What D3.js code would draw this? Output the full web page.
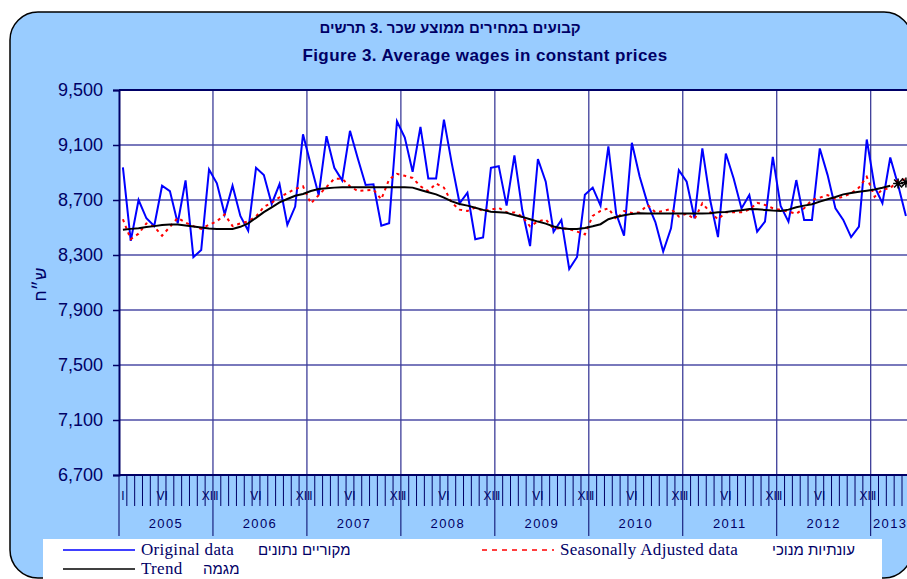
<!DOCTYPE html>
<html>
<head>
<meta charset="utf-8">
<script src="https://cdn.jsdelivr.net/npm/d3@7"></script>
<style>
body { margin: 0; background: #fff; }
svg { display: block; }
</style>
</head>
<body>
<div id="chart"></div>
<script>
// monthly series, Jan 2005 .. May 2013
var years = ['2005', '2006', '2007', '2008', '2009', '2010', '2011', '2012', '2013'];
var monthMarks = [{m: 0, label: 'I'}, {m: 5, label: 'VI'}, {m: 11, label: 'XII'}];
var yTicks = [6700, 7100, 7500, 7900, 8300, 8700, 9100, 9500];

var original = [
    8937, 8403, 8700, 8567, 8511, 8804, 8765, 8531, 8843, 8284, 8337, 8922,
    8821, 8596, 8804, 8584, 8477, 8934, 8881, 8671, 8816, 8519, 8652, 9178,
    8954, 8736, 9164, 8934, 8843, 9203, 9002, 8809, 8814, 8513, 8531, 9273,
    9154, 8905, 9232, 8857, 8857, 9285, 8966, 8676, 8753, 8415, 8427, 8934,
    8946, 8659, 9024, 8627, 8365, 8998, 8833, 8468, 8555, 8198, 8286, 8738,
    8790, 8659, 9090, 8600, 8441, 9116, 8869, 8676, 8540, 8325, 8494, 8917,
    8833, 8567, 9075, 8700, 8430, 9038, 8857, 8639, 8736, 8470, 8543, 9014,
    8656, 8543, 8845, 8555, 8555, 9075, 8881, 8639, 8555, 8430, 8507, 9140,
    8797, 8676, 9009, 8809, 8584
];

var seasonal = [
    8560, 8415, 8455, 8530, 8505, 8440, 8505, 8570, 8535, 8510, 8490, 8520,
    8545, 8595, 8510, 8530, 8545, 8580, 8650, 8680, 8720, 8750, 8780, 8800,
    8675, 8735, 8795, 8855, 8855, 8800, 8765, 8770, 8775, 8705, 8850, 8890,
    8876, 8860, 8800, 8765, 8820, 8790, 8680, 8630, 8620, 8645, 8620, 8630,
    8642, 8610, 8610, 8580, 8508, 8545, 8558, 8492, 8495, 8488, 8470, 8450,
    8585, 8620, 8640, 8560, 8620, 8605, 8610, 8664, 8611, 8620, 8635, 8580,
    8600, 8560, 8676, 8611, 8560, 8611, 8611, 8611, 8630, 8680, 8664, 8640,
    8628, 8615, 8600, 8640, 8700, 8717, 8736, 8707, 8725, 8748, 8790, 8869,
    8724, 8777, 8785, 8845, 8850
];

var trend = [
    8483, 8490, 8495, 8503, 8510, 8518, 8522, 8522, 8515, 8507, 8500, 8492,
    8490, 8490, 8490, 8505, 8530, 8570, 8612, 8647, 8683, 8707, 8731, 8744,
    8765, 8780, 8785, 8790, 8792, 8792, 8792, 8792, 8792, 8792, 8792, 8792,
    8792, 8790, 8773, 8756, 8741, 8717, 8690, 8671, 8659, 8644, 8628, 8615,
    8611, 8607, 8591, 8577, 8560, 8543, 8528, 8507, 8495, 8490, 8490, 8497,
    8509, 8524, 8560, 8577, 8589, 8599, 8603, 8601, 8601, 8601, 8601, 8601,
    8601, 8601, 8601, 8603, 8611, 8613, 8620, 8625, 8635, 8632, 8628, 8623,
    8620, 8630, 8647, 8659, 8669, 8688, 8705, 8722, 8741, 8751, 8760, 8768,
    8777, 8789, 8804
];
// last two trend estimates, drawn as star markers
var trendEnd = [8820, 8828];

var W = 907, H = 579;
var plot = {left: 119, top: 90, bottom: 475};
var monthW = 7.83;
var navy = '#000066';

var svg = d3.select('#chart').append('svg')
    .attr('width', W)
    .attr('height', H);

// Hebrew words are laid out one by one, left to right, as in the original picture
function wordsLeftToRight(parent, words, x0, y0, anchor, style) {
    var g = parent.append('g');
    var cx = 0;
    words.forEach(function(w) {
        var t = g.append('text')
            .attr('x', cx).attr('y', y0)
            .attr('font-family', style.family)
            .attr('font-size', style.size)
            .attr('font-weight', style.weight || 'normal')
            .attr('fill', style.fill)
            .text(w);
        cx += t.node().getComputedTextLength() + style.size * 0.28;
    });
    var total = cx - style.size * 0.28;
    var shift = anchor === 'middle' ? x0 - total / 2 : x0;
    g.attr('transform', 'translate(' + shift + ',0)');
    return g;
}

// outer rounded panel
svg.append('rect')
    .attr('x', 10).attr('y', 12)
    .attr('width', 902).attr('height', 566)
    .attr('rx', 28).attr('ry', 28)
    .attr('fill', '#99ccff')
    .attr('stroke', '#000')
    .attr('stroke-width', 1.5);

var x = d3.scaleLinear()
    .domain([0, years.length * 12])
    .range([plot.left, plot.left + years.length * 12 * monthW]);
var y = d3.scaleLinear()
    .domain([6700, 9500])
    .range([plot.bottom, plot.top]);

// titles
wordsLeftToRight(svg, ['תרשים', '3.', 'שכר', 'ממוצע', 'במחירים', 'קבועים'], 450, 33, 'middle',
    {family: 'Liberation Sans, DejaVu Sans, sans-serif', size: 15, weight: 'bold', fill: navy});
svg.append('text')
    .attr('x', 485).attr('y', 61)
    .attr('text-anchor', 'middle')
    .attr('font-family', 'Liberation Sans, Arial, sans-serif')
    .attr('font-size', 17).attr('font-weight', 'bold')
    .attr('letter-spacing', 0.4)
    .attr('fill', navy)
    .text('Figure 3. Average wages in constant prices');

// plot background
svg.append('rect')
    .attr('x', plot.left).attr('y', plot.top)
    .attr('width', W - plot.left + 10).attr('height', plot.bottom - plot.top)
    .attr('fill', '#fff');

// gridlines
svg.append('g')
    .selectAll('line')
    .data(yTicks.slice(1, -1))
    .enter().append('line')
    .attr('x1', plot.left).attr('x2', W)
    .attr('y1', function(d) { return y(d); })
    .attr('y2', function(d) { return y(d); })
    .attr('stroke', '#4d4da6')
    .attr('stroke-width', 1.5);

svg.append('g')
    .selectAll('line')
    .data(years.slice(1))
    .enter().append('line')
    .attr('x1', function(d, i) { return x((i + 1) * 12); })
    .attr('x2', function(d, i) { return x((i + 1) * 12); })
    .attr('y1', plot.top).attr('y2', plot.bottom)
    .attr('stroke', '#3d3d99')
    .attr('stroke-width', 1.3);

// y axis
var yAxis = d3.axisLeft(y)
    .tickValues(yTicks)
    .tickSize(6)
    .tickPadding(10)
    .tickFormat(d3.format(','));
var yg = svg.append('g')
    .attr('transform', 'translate(' + plot.left + ',0)')
    .call(yAxis);
yg.select('.domain').attr('stroke', navy).attr('stroke-width', 2);
yg.selectAll('.tick line').attr('stroke', navy).attr('stroke-width', 1.5);
yg.selectAll('.tick text')
    .attr('font-family', 'Liberation Sans, Arial, sans-serif')
    .attr('font-size', 18)
    .attr('fill', navy);

svg.append('text')
    .attr('transform', 'translate(46,' + ((plot.top + plot.bottom) / 2 + 2) + ') rotate(-90)')
    .attr('text-anchor', 'middle')
    .attr('font-family', 'Liberation Sans, DejaVu Sans, sans-serif')
    .attr('font-size', 17)
    .attr('fill', navy)
    .text('ש״ח');

// plot frame top and bottom
svg.append('line')
    .attr('x1', plot.left).attr('x2', W)
    .attr('y1', plot.top).attr('y2', plot.top)
    .attr('stroke', navy).attr('stroke-width', 2);
svg.append('line')
    .attr('x1', plot.left).attr('x2', W)
    .attr('y1', plot.bottom).attr('y2', plot.bottom)
    .attr('stroke', navy).attr('stroke-width', 2);

// x axis: month labels, month ticks, year labels
var nMonths = original.length;
var xg = svg.append('g');
var marks = [];
years.forEach(function(yr, yi) {
    monthMarks.forEach(function(mm) {
        var pos = yi * 12 + mm.m;
        if (pos < nMonths) marks.push({pos: pos + 0.5, label: mm.label});
    });
});
xg.selectAll('text.month')
    .data(marks)
    .enter().append('text')
    .attr('class', 'month')
    .attr('x', function(d) { return x(d.pos); })
    .attr('y', plot.bottom + 25)
    .attr('text-anchor', 'middle')
    .attr('font-family', 'Liberation Sans, Arial, sans-serif')
    .attr('font-size', 12)
    .attr('fill', navy)
    .text(function(d) { return d.label; });

xg.selectAll('line.month')
    .data(d3.range(1, years.length * 12))
    .enter().append('line')
    .attr('class', 'month')
    .attr('x1', function(d) { return x(d); })
    .attr('x2', function(d) { return x(d); })
    .attr('y1', plot.bottom)
    .attr('y2', function(d) { return d % 12 === 0 ? plot.bottom + 61 : plot.bottom + 31; })
    .attr('stroke', navy)
    .attr('stroke-width', 1);
xg.append('line')
    .attr('x1', plot.left).attr('x2', plot.left)
    .attr('y1', plot.bottom).attr('y2', plot.bottom + 61)
    .attr('stroke', navy).attr('stroke-width', 1);

xg.selectAll('text.year')
    .data(years)
    .enter().append('text')
    .attr('class', 'year')
    .attr('x', function(d, i) {
        var months = Math.min(12, nMonths - i * 12);
        return x(i * 12 + months / 2);
    })
    .attr('y', plot.bottom + 53)
    .attr('text-anchor', 'middle')
    .attr('font-family', 'Liberation Sans, Arial, sans-serif')
    .attr('font-size', 13)
    .attr('letter-spacing', 1.4)
    .attr('fill', navy)
    .text(function(d) { return d; });

// series
svg.append('clipPath').attr('id', 'plotclip')
    .append('rect')
    .attr('x', plot.left).attr('y', plot.top)
    .attr('width', W - plot.left).attr('height', plot.bottom - plot.top);

var series = svg.append('g').attr('clip-path', 'url(#plotclip)');
var line = d3.line()
    .x(function(d, i) { return x(i + 0.5); })
    .y(function(d) { return y(d); });

series.append('path')
    .datum(original)
    .attr('d', line)
    .attr('fill', 'none')
    .attr('stroke', '#0000ff')
    .attr('stroke-width', 2);

series.append('path')
    .datum(seasonal)
    .attr('d', line)
    .attr('fill', 'none')
    .attr('stroke', '#ff0000')
    .attr('stroke-width', 2)
    .attr('stroke-dasharray', '3,4');

series.append('path')
    .datum(trend)
    .attr('d', line)
    .attr('fill', 'none')
    .attr('stroke', '#000')
    .attr('stroke-width', 2);

var starPath = 'M-5,0L5,0M0,-5L0,5M-4,-4L4,4M-4,4L4,-4';
series.selectAll('path.star')
    .data(trendEnd)
    .enter().append('path')
    .attr('class', 'star')
    .attr('transform', function(d, i) {
        return 'translate(' + x(trend.length + i + 0.5) + ',' + y(d) + ')';
    })
    .attr('d', starPath)
    .attr('stroke', '#000')
    .attr('stroke-width', 1.5);

// legend
var lg = svg.append('g');
lg.append('rect')
    .attr('x', 43).attr('y', 539)
    .attr('width', 839).attr('height', 45)
    .attr('fill', '#fff');

var legendItems = [
    {x: 63, y: 550, color: '#0000ff', dash: null, en: 'Original data', he: ['נתונים', 'מקוריים'], hx: 258},
    {x: 482, y: 550, color: '#ff0000', dash: '5,5', en: 'Seasonally Adjusted data', he: ['מנוכי', 'עונתיות'], hx: 772},
    {x: 63, y: 569, color: '#000', dash: null, en: 'Trend', he: ['מגמה'], hx: 203}
];
legendItems.forEach(function(it) {
    lg.append('line')
        .attr('x1', it.x).attr('x2', it.x + 72)
        .attr('y1', it.y).attr('y2', it.y)
        .attr('stroke', it.color)
        .attr('stroke-width', 1.5)
        .attr('stroke-dasharray', it.dash);
    lg.append('text')
        .attr('x', it.x + 78).attr('y', it.y + 5)
        .attr('font-family', 'Liberation Serif, Times New Roman, serif')
        .attr('font-size', 17)
        .attr('letter-spacing', 0.3)
        .attr('fill', navy)
        .text(it.en);
    wordsLeftToRight(lg, it.he, it.hx, it.y + 5, 'start',
        {family: 'Liberation Sans, DejaVu Sans, sans-serif', size: 15, fill: navy});
});
</script>
</body>
</html>
